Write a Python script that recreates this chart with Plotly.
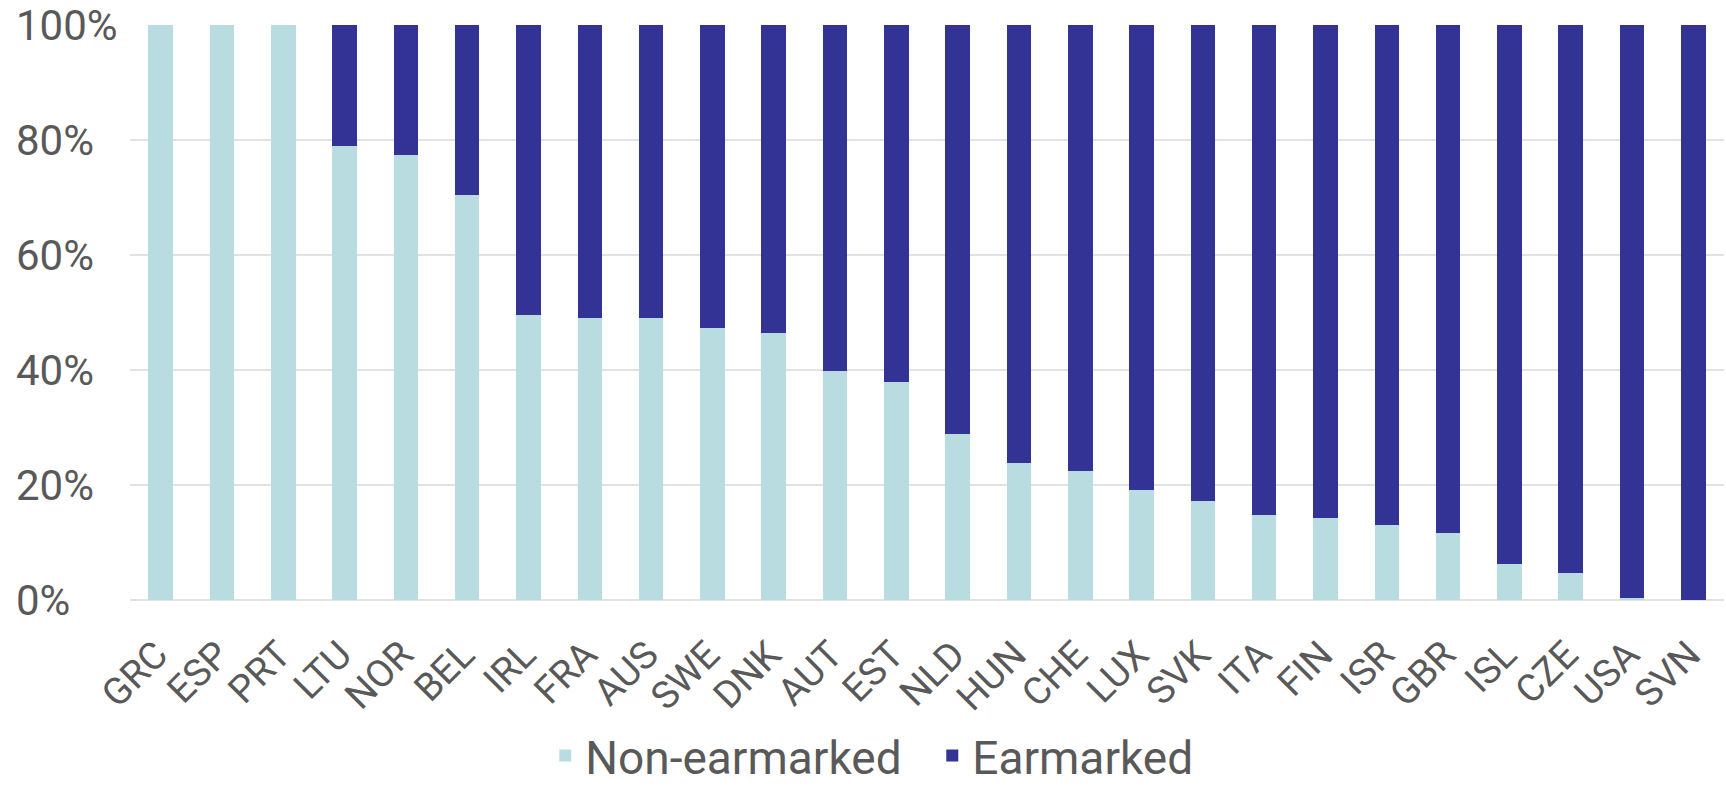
import plotly.graph_objects as go

# Share of spending by country, earmarked vs non-earmarked (%)
countries = ["GRC", "ESP", "PRT", "LTU", "NOR", "BEL", "IRL", "FRA", "AUS", "SWE",
             "DNK", "AUT", "EST", "NLD", "HUN", "CHE", "LUX", "SVK", "ITA", "FIN",
             "ISR", "GBR", "ISL", "CZE", "USA", "SVN"]
non_earmarked = [100, 100, 100, 78.9, 77.4, 70.5, 49.5, 49.1, 49.1, 47.3,
                 46.5, 39.9, 38.0, 28.9, 23.9, 22.5, 19.1, 17.3, 14.7, 14.2,
                 13.1, 11.6, 6.3, 4.7, 0.3, 0]
earmarked = [0, 0, 0, 21.1, 22.6, 29.5, 50.5, 50.9, 50.9, 52.7,
             53.5, 60.1, 62.0, 71.1, 76.1, 77.5, 80.9, 82.7, 85.3, 85.8,
             86.9, 88.4, 93.7, 95.3, 99.7, 100]
y_ticks = [0, 20, 40, 60, 80, 100]
y_tick_labels = ["0%", "20%", "40%", "60%", "80%", "100%"]

LIGHT = "#B9DCE0"
DARK = "#333395"
TEXT = "#595959"
GRID = "#E2E2E2"
FONT = "Roboto"

fig = go.Figure()
fig.add_trace(go.Bar(x=countries, y=non_earmarked, name="Non-earmarked",
                     marker=dict(color=LIGHT, line=dict(width=0))))
fig.add_trace(go.Bar(x=countries, y=earmarked, name="Earmarked",
                     marker=dict(color=DARK, line=dict(width=0))))

# Left-aligned percentage labels for the value axis
annotations = [
    dict(x=0, xref="paper", xanchor="left", y=v, yref="y", yanchor="middle",
         text=t, showarrow=False, font=dict(family=FONT, size=42, color=TEXT))
    for v, t in zip(y_ticks, y_tick_labels)
]

W, H = 1726, 788
ml, mr, mt, mb = 14, 2, 25, 188
x0 = (130 - ml) / (W - ml - mr)

fig.update_layout(
    width=W, height=H,
    margin=dict(l=ml, r=mr, t=mt, b=mb, autoexpand=False),
    barmode="stack",
    bargap=0.6,
    plot_bgcolor="white",
    paper_bgcolor="white",
    font=dict(family=FONT, color=TEXT),
    xaxis=dict(domain=[x0, 1], tickangle=-45, showgrid=False, showline=False,
               ticks="outside", ticklen=16, tickcolor="rgba(0,0,0,0)",
               ticklabelshift=-4,
               automargin=False,
               tickfont=dict(family=FONT, size=38, color=TEXT),
               range=[-0.5, len(countries) - 0.5]),
    yaxis=dict(range=[0, 100], tickvals=y_ticks, showticklabels=False,
               automargin=False,
               showgrid=True, gridcolor=GRID, gridwidth=2,
               zeroline=True, zerolinecolor=GRID, zerolinewidth=2,
               showline=False, ticks=""),
    legend=dict(orientation="h", x=0.537, xanchor="center",
                yref="container", y=0.041, yanchor="middle",
                entrywidth=342, entrywidthmode="pixels",
                font=dict(family=FONT, size=46, color=TEXT),
                itemclick=False, traceorder="normal"),
    annotations=annotations,
    showlegend=True,
)

fig.write_html("out.html")
